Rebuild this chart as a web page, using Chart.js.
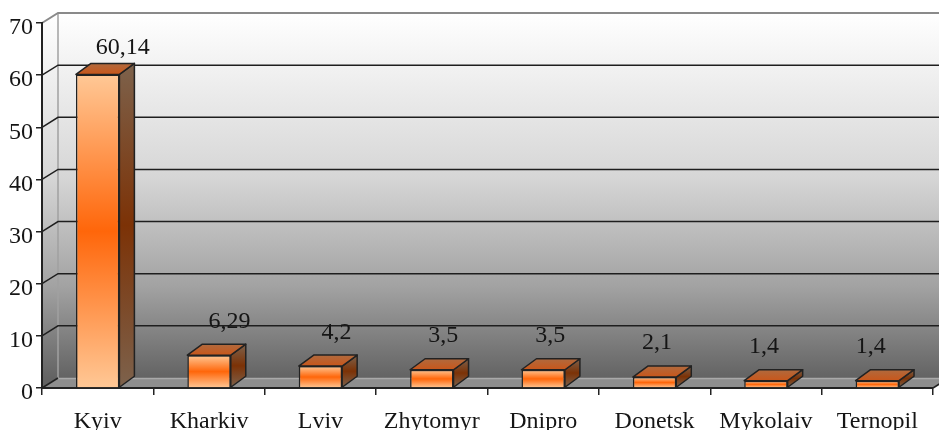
<!DOCTYPE html>
<html>
<head>
<meta charset="utf-8">
<script src="https://cdn.jsdelivr.net/npm/chart.js@4/dist/chart.umd.min.js"></script>
<style>
  html, body { margin: 0; padding: 0; background: #fff; }
  #wrap { width: 939px; height: 430px; }
</style>
</head>
<body>
<div id="wrap"><canvas id="myChart" width="939" height="430"></canvas></div>
<script>
// chart data
var categories = ['Kyiv', 'Kharkiv', 'Lviv', 'Zhytomyr', 'Dnipro', 'Donetsk', 'Mykolaiv', 'Ternopil'];
var values = [60.14, 6.29, 4.2, 3.5, 3.5, 2.1, 1.4, 1.4];
var valueLabels = ['60,14', '6,29', '4,2', '3,5', '3,5', '2,1', '1,4', '1,4'];
var yMin = 0, yMax = 70, yStep = 10;

var FONT = '"Liberation Serif", "Times New Roman", serif';
var TEXT = '#151515';
var WALL_DX = 16, WALL_DY = -10;   // depth of back wall
var BAR_DX = 15, BAR_DY = -11;     // depth of each bar

function wallGradient(ctx, top, bottom) {
    var g = ctx.createLinearGradient(0, top, 0, bottom);
    g.addColorStop(0, '#ffffff');
    g.addColorStop(0.45, '#d6d6d6');
    g.addColorStop(0.75, '#a2a2a2');
    g.addColorStop(1, '#636363');
    return g;
}

// walls, floor and gridlines in perspective
var wallsPlugin = {
    id: 'walls3d',
    beforeDraw: function(chart) {
        var ctx = chart.ctx, area = chart.chartArea, y = chart.scales.y;
        var W = chart.width;
        var L = area.left, R = area.right;
        var top = y.getPixelForValue(yMax), base = y.getPixelForValue(yMin);
        ctx.save();
        var g = wallGradient(ctx, top + WALL_DY, base + WALL_DY);
        // back wall
        ctx.fillStyle = g;
        ctx.fillRect(L + WALL_DX, top + WALL_DY, W - L - WALL_DX, base - top);
        // side wall
        ctx.beginPath();
        ctx.moveTo(L, top);
        ctx.lineTo(L + WALL_DX, top + WALL_DY);
        ctx.lineTo(L + WALL_DX, base + WALL_DY);
        ctx.lineTo(L, base);
        ctx.closePath();
        ctx.fill();
        // floor
        ctx.beginPath();
        ctx.moveTo(L, base);
        ctx.lineTo(L + WALL_DX, base + WALL_DY);
        ctx.lineTo(R + WALL_DX, base + WALL_DY);
        ctx.lineTo(R, base);
        ctx.closePath();
        ctx.fillStyle = '#8e8e8e';
        ctx.fill();
        ctx.strokeStyle = '#222';
        ctx.lineWidth = 1.5;
        ctx.beginPath();
        ctx.moveTo(R, base);
        ctx.lineTo(R + WALL_DX, base + WALL_DY);
        ctx.stroke();
        // back edge of floor
        ctx.strokeStyle = '#a9a9a9';
        ctx.beginPath();
        ctx.moveTo(L + WALL_DX, base + WALL_DY + 0.5);
        ctx.lineTo(W, base + WALL_DY + 0.5);
        ctx.stroke();
        // wall edge
        ctx.strokeStyle = '#a0a0a0';
        ctx.beginPath();
        ctx.moveTo(L + WALL_DX, top + WALL_DY);
        ctx.lineTo(L + WALL_DX, base + WALL_DY);
        ctx.stroke();
        // gridlines
        for (var v = yMin + yStep; v <= yMax; v += yStep) {
            var py = y.getPixelForValue(v);
            ctx.strokeStyle = v === yMax ? '#8a8a8a' : '#1e1e1e';
            ctx.lineWidth = v === yMax ? 2 : 1.5;
            ctx.beginPath();
            ctx.moveTo(L, py);
            ctx.lineTo(L + WALL_DX, py + WALL_DY);
            ctx.lineTo(W, py + WALL_DY);
            ctx.stroke();
        }
        ctx.strokeStyle = '#222';
        ctx.lineWidth = 1.5;
        ctx.beginPath();
        ctx.moveTo(L, base);
        ctx.lineTo(L + WALL_DX, base + WALL_DY);
        ctx.stroke();
        ctx.restore();
    }
};

// top and side faces of bars, value labels
var barsPlugin = {
    id: 'bars3d',
    afterDatasetsDraw: function(chart) {
        var ctx = chart.ctx;
        var meta = chart.getDatasetMeta(0);
        ctx.save();
        ctx.lineJoin = 'round';
        ctx.strokeStyle = '#222';
        ctx.lineWidth = 1.5;
        meta.data.forEach(function(bar, i) {
            var p = bar.getProps(['x', 'y', 'base', 'width'], true);
            var l = p.x - p.width / 2, r = p.x + p.width / 2;
            // side face
            var sg = ctx.createLinearGradient(0, p.y + BAR_DY, 0, p.base);
            sg.addColorStop(0, '#7d624c');
            sg.addColorStop(0.5, '#7c3206');
            sg.addColorStop(1, '#7d624c');
            ctx.beginPath();
            ctx.moveTo(r, p.y);
            ctx.lineTo(r + BAR_DX, p.y + BAR_DY);
            ctx.lineTo(r + BAR_DX, p.base + BAR_DY);
            ctx.lineTo(r, p.base);
            ctx.closePath();
            ctx.fillStyle = sg;
            ctx.fill();
            ctx.stroke();
            // top face
            var tg = ctx.createLinearGradient(0, p.y, 0, p.y + BAR_DY);
            tg.addColorStop(0, '#c9561a');
            tg.addColorStop(1, '#b06a3e');
            ctx.beginPath();
            ctx.moveTo(l, p.y);
            ctx.lineTo(l + BAR_DX, p.y + BAR_DY);
            ctx.lineTo(r + BAR_DX, p.y + BAR_DY);
            ctx.lineTo(r, p.y);
            ctx.closePath();
            ctx.fillStyle = tg;
            ctx.fill();
            ctx.stroke();
            // label, shifted a bit like the perspective of the original
            ctx.fillStyle = TEXT;
            ctx.font = '24px ' + FONT;
            ctx.textAlign = 'center';
            ctx.textBaseline = 'alphabetic';
            var gap = 28 - 0.12 * values[i];
            ctx.fillText(valueLabels[i], p.x + 25 - 4.5 * i, p.y - gap);
        });
        ctx.restore();
    }
};

var ctx = document.getElementById('myChart').getContext('2d');
var chart = new Chart(ctx, {
    type: 'bar',
    data: {
        labels: categories,
        datasets: [{
            data: values,
            backgroundColor: function(c) {
                var ch = c.chart;
                if (!ch.chartArea) return '#ff6600';
                var ys = ch.scales.y;
                var t = ys.getPixelForValue(values[c.dataIndex]);
                var b = ys.getPixelForValue(0);
                var g = ch.ctx.createLinearGradient(0, t, 0, b);
                g.addColorStop(0, '#ffc896');
                g.addColorStop(0.5, '#ff660a');
                g.addColorStop(1, '#ffc896');
                return g;
            },
            borderColor: '#222',
            borderWidth: 1.5,
            borderSkipped: 'bottom',
            barPercentage: 0.39,
            categoryPercentage: 1
        }]
    },
    options: {
        responsive: false,
        animation: false,
        devicePixelRatio: 1,
        layout: { padding: { top: 23, right: 6, left: 0, bottom: 0 } },
        plugins: {
            legend: { display: false },
            tooltip: { enabled: false }
        },
        scales: {
            x: {
                afterFit: function(s) { s.height = 42; },
                grid: { drawOnChartArea: false, offset: true, tickLength: 7, color: '#222', lineWidth: 1.5 },
                border: { display: true, color: '#222', width: 2 },
                ticks: { color: TEXT, padding: 12, font: { family: FONT, size: 24 } }
            },
            y: {
                min: yMin,
                max: yMax,
                afterFit: function(s) { s.width = 42; },
                grid: { drawOnChartArea: false, tickLength: 6, color: '#222', lineWidth: 1.5 },
                border: { display: true, color: '#222', width: 2 },
                ticks: { stepSize: yStep, color: TEXT, padding: 3, labelOffset: 5, font: { family: FONT, size: 24 } }
            }
        }
    },
    plugins: [wallsPlugin, barsPlugin]
});
</script>
</body>
</html>
